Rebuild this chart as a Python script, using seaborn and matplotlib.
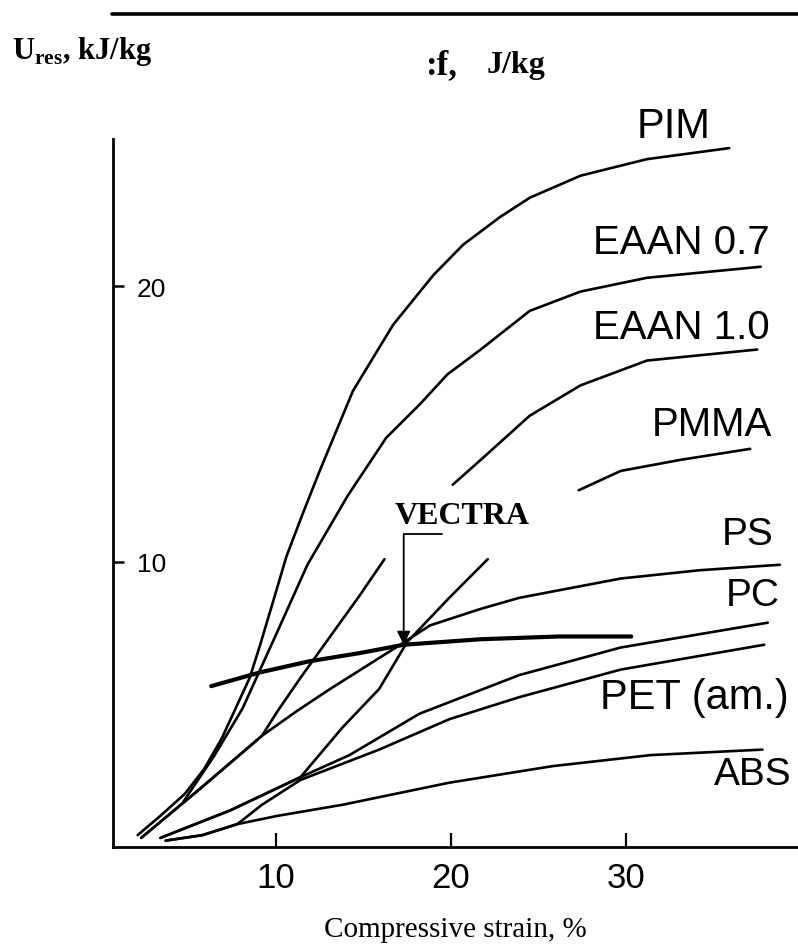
import numpy as np
import pandas as pd
import matplotlib
matplotlib.use("Agg")
import matplotlib.pyplot as plt
from matplotlib.lines import Line2D
import seaborn as sns

# ---------------- data ----------------
nan = np.nan
pim_x = [2.1, 3.4, 4.8, 5.9, 6.9, 7.7, 8.5, 9.1, 9.9, 10.6, 11.5, 12.5, 14.4, 16.7, 19.0, 20.7, 22.8, 24.5, 27.4, 31.2, 35.9]
pim_y = [0.1, 0.8, 1.6, 2.5, 3.6, 4.7, 5.8, 7.0, 8.7, 10.2, 11.7, 13.3, 16.2, 18.6, 20.4, 21.5, 22.5, 23.2, 24.0, 24.6, 25.0]

eaan07_x = [4.7, 6.5, 8.1, 9.1, 10.1, 11.8, 14.1, 16.3, 18.2, 19.8, 21.7, 24.5, 27.4, 31.2, 37.7]
eaan07_y = [1.3, 3.0, 4.7, 6.1, 7.5, 9.9, 12.4, 14.5, 15.7, 16.8, 17.7, 19.1, 19.8, 20.3, 20.7]

eaan10_x = [2.3, 5.7, 9.2, 10.1, 11.4, 13.1, 14.8, 16.2, nan, 20.1, 21.7, 24.5, 27.4, 31.2, 37.5]
eaan10_y = [0.0, 1.8, 3.7, 4.6, 5.8, 7.3, 8.8, 10.1, nan, 12.8, 13.7, 15.3, 16.4, 17.3, 17.7]

pmma_x = [3.4, 7.4, 11.4, 13.8, 15.9, 17.5, 19.9, 22.1, nan, 27.3, 29.7, 33.1, 37.1]
pmma_y = [0.0, 1.0, 2.2, 4.0, 5.4, 7.1, 8.7, 10.1, nan, 12.6, 13.3, 13.7, 14.1]

ps_x = [2.3, 5.7, 9.2, 11.2, 13.1, 15.1, 17.1, 18.8, 21.7, 23.9, 29.7, 34.2, 38.8]
ps_y = [0.0, 1.8, 3.7, 4.6, 5.4, 6.2, 7.0, 7.7, 8.3, 8.7, 9.4, 9.7, 9.9]

pc_x = [3.4, 7.4, 11.4, 14.2, 18.2, 23.9, 29.7, 38.1]
pc_y = [0.0, 1.0, 2.2, 3.0, 4.5, 5.9, 6.9, 7.8]

pet_x = [3.7, 5.8, 7.8, 9.2, 11.4, 15.9, 19.9, 23.9, 29.7, 37.9]
pet_y = [-0.1, 0.1, 0.5, 1.2, 2.1, 3.2, 4.3, 5.1, 6.1, 7.0]

abs_x = [3.7, 5.8, 7.8, 10.1, 13.8, 19.9, 25.8, 31.4, 37.8]
abs_y = [-0.1, 0.1, 0.5, 0.8, 1.2, 2.0, 2.6, 3.0, 3.2]

vectra_x = [6.3, 9.1, 11.9, 14.8, 17.3, 21.7, 26.2, 30.3]
vectra_y = [5.5, 6.0, 6.4, 6.7, 7.0, 7.2, 7.3, 7.3]

curve_names = ["PIM", "EAAN 0.7", "EAAN 1.0", "PMMA", "PS", "PC", "PET (am.)", "ABS"]
curve_xs = [pim_x, eaan07_x, eaan10_x, pmma_x, ps_x, pc_x, pet_x, abs_x]
curve_ys = [pim_y, eaan07_y, eaan10_y, pmma_y, ps_y, pc_y, pet_y, abs_y]

label_x = [30.6, 28.1, 28.1, 31.5, 35.5, 35.7, 28.5, 35.0]
label_y = [25.8, 21.6, 18.5, 15.0, 11.0, 8.8, 5.1, 2.3]
label_size = [30, 29, 29, 29, 28, 28, 30, 28]

x_ticks = [10, 20, 30]
y_ticks = [10, 20]

vectra_point = (17.3, 7.0)
vectra_corner_y = 11.0
vectra_hook_x = 19.5
vectra_text_pos = (16.8, 11.7)

# ---------------- build long table ----------------
rows = []
for name, xs, ys in zip(curve_names, curve_xs, curve_ys):
    seg = 0
    for x, y in zip(xs, ys):
        if np.isnan(x):
            seg += 1
            continue
        rows.append({"curve": name, "unit": f"{name}-{seg}", "x": x, "y": y})
df = pd.DataFrame(rows)
df_v = pd.DataFrame({"x": vectra_x, "y": vectra_y, "unit": "VECTRA"})

# ---------------- style ----------------
sns.set_style("white")
plt.rcParams["font.family"] = ["Liberation Sans", "DejaVu Sans"]
plt.rcParams["text.color"] = "black"
plt.rcParams["axes.labelcolor"] = "black"
plt.rcParams["mathtext.fontset"] = "custom"
plt.rcParams["mathtext.rm"] = "Liberation Serif:bold"
plt.rcParams["mathtext.bf"] = "Liberation Serif:bold"

W, H = 798, 953
fig = plt.figure(figsize=(W / 100, H / 100), dpi=100)
ax = fig.add_axes([113 / W, 1 - 848 / H, 1 - 113 / W, (848 - 140) / H])

sns.lineplot(data=df, x="x", y="y", units="unit", estimator=None, sort=False,
             color="black", linewidth=1.9, ax=ax, legend=False)
sns.lineplot(data=df_v, x="x", y="y", units="unit", estimator=None, sort=False,
             color="black", linewidth=3.0, ax=ax, legend=False)

ax.set_xlim(0.69, 39.83)
ax.set_ylim(-0.33, 25.33)
ax.set_xlabel("")
ax.set_ylabel("")

for s in ["top", "right"]:
    ax.spines[s].set_visible(False)
for s in ["left", "bottom"]:
    ax.spines[s].set_visible(True)
    ax.spines[s].set_color("black")
    ax.spines[s].set_linewidth(2.0)

ax.set_xticks(x_ticks)
ax.set_xticklabels([str(t) for t in x_ticks])
ax.set_yticks(y_ticks)
ax.set_yticklabels([str(t) for t in y_ticks])
ax.tick_params(axis="x", bottom=True, direction="in", length=10, width=1.6,
               labelsize=25, pad=10, colors="black")
ax.tick_params(axis="y", left=True, direction="in", length=8, width=1.8,
               labelsize=19, pad=-17, colors="black")
for lbl in ax.get_yticklabels():
    lbl.set_horizontalalignment("left")

# curve labels
for name, lx, ly, fs in zip(curve_names, label_x, label_y, label_size):
    ax.text(lx, ly, name, fontsize=fs, ha="left", va="center", color="black",
            family=["Liberation Sans", "DejaVu Sans"], clip_on=False)

# VECTRA pointer
ax.text(vectra_text_pos[0], vectra_text_pos[1], "VECTRA", fontsize=23, weight="bold",
        family=["Liberation Serif", "DejaVu Serif"], ha="left", va="center", color="black")
ax.plot([vectra_point[0], vectra_hook_x], [vectra_corner_y, vectra_corner_y],
        color="black", lw=1.3)
ax.annotate("", xy=vectra_point, xytext=(vectra_point[0], vectra_corner_y),
            arrowprops=dict(arrowstyle="-|>", color="black", lw=1.3,
                            mutation_scale=20, shrinkA=0, shrinkB=0))

# figure texts
serif = ["Liberation Serif", "DejaVu Serif"]
fig.text(12 / W, 1 - 52 / H, r"U$_{\mathrm{res}}$, kJ/kg", fontsize=22, weight="bold",
         family=serif, ha="left", va="center", color="black")
fig.text(425 / W, 1 - 66 / H, ":f,", fontsize=25, weight="bold",
         family=serif, ha="left", va="center", color="black")
fig.text(487 / W, 1 - 66 / H, "J/kg", fontsize=23, weight="bold",
         family=serif, ha="left", va="center", color="black")
fig.text(455 / W, 1 - 930 / H, "Compressive strain, %", fontsize=21,
         family=serif, ha="center", va="center", color="black")
fig.add_artist(Line2D([112 / W, 1.0], [1 - 15 / H, 1 - 15 / H], color="black",
                      lw=2.6, transform=fig.transFigure))

fig.savefig("out.png", dpi=100)
